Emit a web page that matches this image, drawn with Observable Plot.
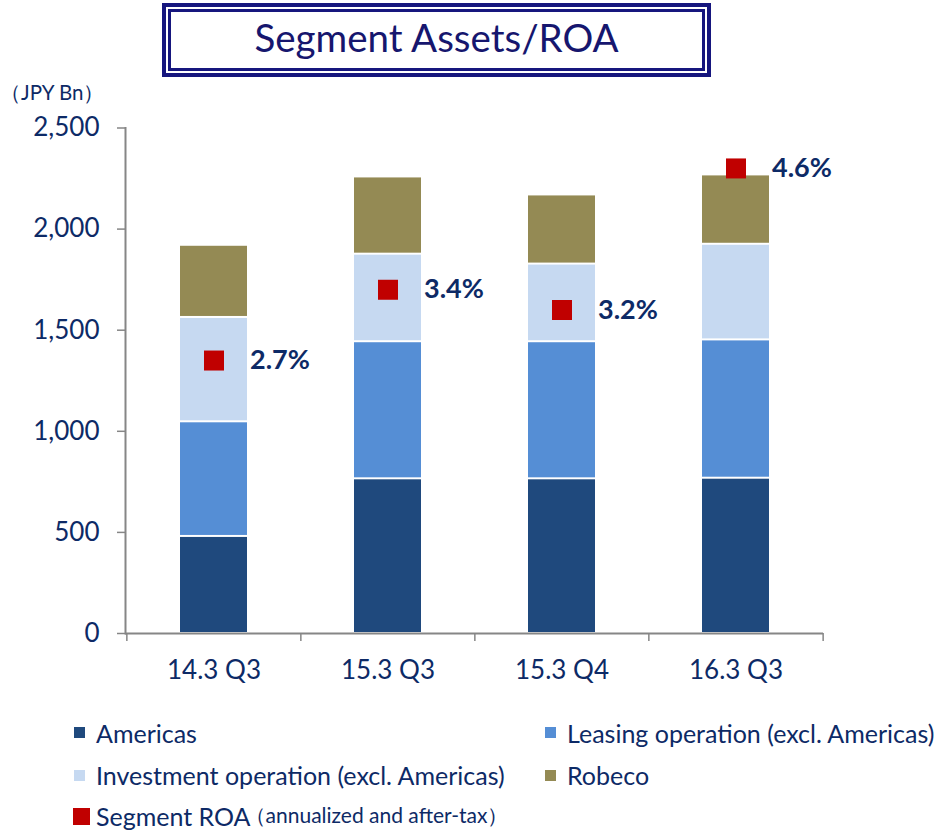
<!DOCTYPE html>
<html>
<head>
<meta charset="utf-8">
<script src="https://cdn.jsdelivr.net/npm/d3@7"></script>
<script src="https://cdn.jsdelivr.net/npm/@observablehq/plot@0.6"></script>
<style>
  body { margin: 0; background: #fff; font-family: Lato, "Noto Sans", sans-serif; }
  #wrap { position: relative; width: 952px; height: 831px; overflow: hidden; background: #fff; }
  #titlebox { position: absolute; left: 162px; top: 3px; width: 549px; height: 74px; box-sizing: border-box;
              border: 4px solid #16167e; padding: 2px; }
  #titleinner { width: 100%; height: 100%; box-sizing: border-box; border: 3px solid #16167e;
                display: flex; align-items: center; justify-content: center;
                font-size: 38.5px; color: #16166e; padding-bottom: 7px; }
  #unit { position: absolute; left: 0; width: 103px; top: 79px; text-align: right; font-size: 20.5px; color: #0d2a66;
          z-index: 5; white-space: nowrap; }
  #chart { position: absolute; left: 0; top: 95px; }
  .leg { position: absolute; height: 28px; display: flex; align-items: center; color: #0d2a66; font-size: 25px; white-space: nowrap; }
  .sw { width: 11px; height: 11px; margin-right: 11px; flex: none; }
</style>
</head>
<body>
<div id="wrap">
  <div id="titlebox"><div id="titleinner"></div></div>
  <div id="chart"></div>
  <div id="unit"></div>
</div>
<script>
// ---------- data ----------
const title = "Segment Assets/ROA";
const yUnit = "（JPY Bn）";
const categories = ["14.3 Q3", "15.3 Q3", "15.3 Q4", "16.3 Q3"];
const seriesNames = ["Americas", "Leasing operation (excl. Americas)", "Investment operation (excl. Americas)", "Robeco"];
const seriesColors = ["#1F497D", "#558ED5", "#C6D9F1", "#948A54"];
const americas   = [480, 765, 765, 768];
const leasing    = [567, 678, 678, 684];
const investment = [516, 433, 384, 473];
const robeco     = [357, 382, 342, 343];
const roa        = [2.7, 3.4, 3.2, 4.6];        // %, on a hidden secondary axis 0–5 %
const roaLabels  = ["2.7%", "3.4%", "3.2%", "4.6%"];
const roaName    = "Segment ROA";
const roaNote    = "（annualized and after-tax）";
const roaColor   = "#C00000";
const yTicks     = [0, 500, 1000, 1500, 2000, 2500];
const yMax = 2500;
const roaAxisMax = 5;

// ---------- tables ----------
const seriesValues = [americas, leasing, investment, robeco];
const rows = categories.flatMap((c, i) => seriesNames.map((s, j) => ({category: c, series: s, value: seriesValues[j][i]})));
const roaRows = categories.map((c, i) => ({category: c, roa: roa[i], label: roaLabels[i]}));

// ---------- layout ----------
const navy = "#0d2a66";
const axisGray = "#868686";
const W = 952, H = 600, ml = 125, mr = 129, mt = 32.5, mb = 62;
const pInner = 0.615, pOuter = 0.31;
const step = (W - ml - mr) / (categories.length - pInner + 2 * pOuter);

document.getElementById("titleinner").textContent = title;
document.getElementById("unit").textContent = yUnit;

const chart = Plot.plot({
  width: W, height: H,
  marginLeft: ml, marginRight: mr, marginTop: mt, marginBottom: mb,
  style: {fontFamily: "Lato, 'Noto Sans', sans-serif", background: "transparent", overflow: "visible"},
  x: {domain: categories, paddingInner: pInner, paddingOuter: pOuter, label: null},
  y: {domain: [0, yMax], label: null},
  color: {domain: seriesNames, range: seriesColors},
  marks: [
    Plot.barY(rows, {x: "category", y: "value", fill: "series", insetTop: 1, insetBottom: 1}),
    Plot.ruleY([0], {stroke: axisGray, strokeWidth: 2}),
    Plot.frame({anchor: "left", stroke: axisGray, strokeWidth: 2}),
    Plot.axisY({ticks: yTicks, tickFormat: d3.format(","), tickSize: 8, tickPadding: 18,
                fontSize: 26, fill: navy, stroke: axisGray, strokeWidth: 1.5, label: null}),
    Plot.axisX({tickSize: 0, tickPadding: 27, fontSize: 26, fill: navy, label: null}),
    Plot.ruleX(categories, {x: d => d, y1: 0, y2: 0, insetBottom: -8, dx: -step / 2, stroke: axisGray, strokeWidth: 1.5}),
    Plot.ruleX(categories.slice(-1), {x: d => d, y1: 0, y2: 0, insetBottom: -8, dx: step / 2, stroke: axisGray, strokeWidth: 1.5}),
    Plot.dot(roaRows, {x: "category", y: d => d.roa / roaAxisMax * yMax, symbol: "square",
                       r: 20 / Math.sqrt(Math.PI), fill: roaColor}),
    Plot.text(roaRows, {x: "category", y: d => d.roa / roaAxisMax * yMax, text: "label", dx: 36,
                        textAnchor: "start", fontSize: 27, fontWeight: "bold", fill: navy})
  ]
});
document.getElementById("chart").appendChild(chart);

// ---------- legend ----------
const wrap = document.getElementById("wrap");
const legCols = [74, 545], legRows = [732.5, 775];
seriesNames.forEach((s, i) => {
  const d = document.createElement("div");
  d.className = "leg";
  d.style.left = legCols[i % 2] + "px";
  d.style.top = (legRows[Math.floor(i / 2)] - 14) + "px";
  const sw = document.createElement("span");
  sw.className = "sw";
  sw.style.background = seriesColors[i];
  const t = document.createElement("span");
  t.textContent = s;
  d.appendChild(sw); d.appendChild(t);
  wrap.appendChild(d);
});
{
  const d = document.createElement("div");
  d.className = "leg";
  d.style.left = "73px";
  d.style.top = (816 - 14) + "px";
  const sw = document.createElement("span");
  sw.className = "sw";
  sw.style.cssText = `width:17px;height:17px;margin-right:6px;background:${roaColor}`;
  const t = document.createElement("span");
  t.textContent = roaName;
  const n = document.createElement("span");
  n.textContent = roaNote;
  n.style.fontSize = "21px";
  n.style.marginLeft = "-6px";
  d.appendChild(sw); d.appendChild(t); d.appendChild(n);
  wrap.appendChild(d);
}
</script>
</body>
</html>
